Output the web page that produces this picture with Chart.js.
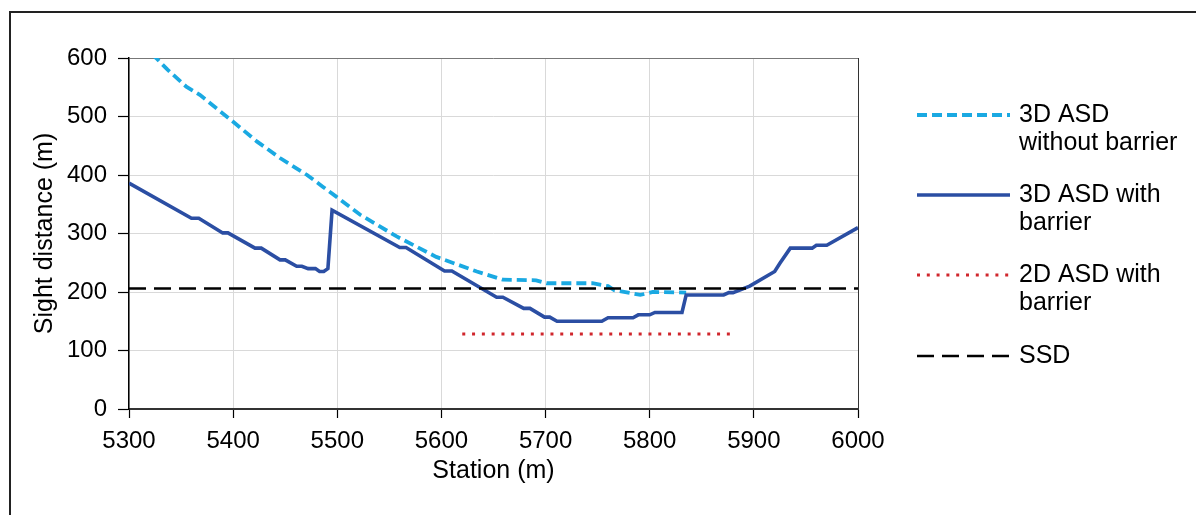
<!DOCTYPE html>
<html>
<head>
<meta charset="utf-8">
<title>Sight distance along the station</title>
<script src="https://cdn.jsdelivr.net/npm/chart.js@4.4.1/dist/chart.umd.min.js"></script>
<style>
  body { margin: 0; background: #fff; }
  #wrap { width: 1196px; height: 515px; }
</style>
</head>
<body>
<div id="wrap"><canvas id="chart" width="1196" height="515"></canvas></div>
<script>
"use strict";

// values: station (m) -> sight distance (m)
const noBarrierX = [5300, 5326, 5337, 5355, 5368, 5400, 5423, 5445, 5471, 5486, 5499, 5522, 5557, 5595, 5634, 5659, 5691, 5701, 5745, 5760, 5766, 5791, 5803, 5835];
const noBarrierY = [640, 600, 580, 551, 537, 491, 457, 429, 400, 380, 363, 332, 295, 260, 235, 221, 220, 215, 215, 210, 203, 195, 200, 199];

const withBarrierX = [5300, 5360, 5367, 5390, 5395, 5421, 5427, 5445, 5450, 5461, 5466, 5472, 5479, 5483, 5487, 5491, 5495, 5560, 5566, 5603, 5610, 5653, 5659, 5679, 5685, 5699, 5704, 5711, 5754, 5760, 5784, 5789, 5800, 5805, 5831, 5835, 5871, 5876, 5880, 5896, 5920, 5925, 5935, 5956, 5960, 5970, 6000];
const withBarrierY = [386, 326, 326, 301, 301, 275, 275, 255, 255, 244, 244, 240, 240, 235, 235, 240, 340, 276, 276, 236, 236, 191, 191, 172, 172, 157, 157, 150, 150, 156, 156, 161, 161, 165, 165, 195, 195, 199, 199, 210, 235, 249, 275, 275, 280, 280, 310];

const twoDX = [5620, 5882];
const twoDY = [128, 128];

const ssdX = [5300, 6000];
const ssdY = [206, 206];

const xTicks = [5300, 5400, 5500, 5600, 5700, 5800, 5900, 6000];
const yTicks = [0, 100, 200, 300, 400, 500, 600];

const legendLabels = [["3D ASD", "without barrier"], ["3D ASD with", "barrier"], ["2D ASD with", "barrier"], ["SSD"]];

const FONT = "'Liberation Sans', Arial, sans-serif";
const TICK_FS = 24;
const FS = 25;

function toPoints(xs, ys) {
  return xs.map((x, i) => ({ x: x, y: ys[i] }));
}

const styles = [
  { color: "#1aa9e2", width: 3.8, dash: [10, 5] },
  { color: "#2b4ea3", width: 3.6, dash: [] },
  { color: "#d0262d", width: 3, dash: [3, 6.8] },
  { color: "#000000", width: 2.5, dash: [17, 8] }
];

const data = {
  datasets: [
    { data: toPoints(noBarrierX, noBarrierY), order: 3 },
    { data: toPoints(withBarrierX, withBarrierY), order: 2 },
    { data: toPoints(twoDX, twoDY), order: 1 },
    { data: toPoints(ssdX, ssdY), order: 0 }
  ].map((d, i) => Object.assign(d, {
    label: legendLabels[i].join(" "),
    borderColor: styles[i].color,
    backgroundColor: styles[i].color,
    borderWidth: styles[i].width,
    borderDash: styles[i].dash,
    pointRadius: 0,
    tension: 0,
    fill: false
  }))
};

// legend on the right + outer frame
const extras = {
  id: "extras",
  afterDraw(chart) {
    const ctx = chart.ctx;
    ctx.save();
    ctx.strokeStyle = "#222";
    ctx.lineWidth = 2;
    ctx.setLineDash([]);
    ctx.beginPath();
    ctx.moveTo(1196, 12);
    ctx.lineTo(10, 12);
    ctx.lineTo(10, 515);
    ctx.stroke();

    const rows = [115, 195, 275, 356];
    ctx.font = FS + "px " + FONT;
    ctx.textBaseline = "middle";
    ctx.fillStyle = "#000";
    for (let i = 0; i < rows.length; i++) {
      ctx.strokeStyle = styles[i].color;
      ctx.lineWidth = styles[i].width;
      ctx.setLineDash(styles[i].dash);
      ctx.beginPath();
      ctx.moveTo(917, rows[i]);
      ctx.lineTo(1010, rows[i]);
      ctx.stroke();
      for (let j = 0; j < legendLabels[i].length; j++) {
        ctx.fillText(legendLabels[i][j], 1019, rows[i] + j * 28);
      }
    }
    ctx.restore();
  }
};

const config = {
  type: "line",
  data: data,
  plugins: [extras],
  options: {
    responsive: false,
    animation: false,
    layout: { padding: { left: 20, top: 58, right: 338, bottom: 20 } },
    plugins: { legend: { display: false }, tooltip: { enabled: false } },
    scales: {
      x: {
        type: "linear",
        min: 5300,
        max: 6000,
        afterBuildTicks: s => { s.ticks = xTicks.map(v => ({ value: v })); },
        afterFit: s => { s.height = 86; },
        grid: {
          color: c => (c.tick && c.tick.value === 6000 ? "#333" : "#d9d9d9"),
          lineWidth: 1,
          tickLength: 9,
          tickColor: "#000",
          tickWidth: 1.2
        },
        border: { color: "#333", width: 2 },
        ticks: { color: "#000", font: { family: FONT, size: TICK_FS }, padding: 9, maxRotation: 0, callback: v => String(v) },
        title: { display: true, text: "Station (m)", color: "#000", font: { family: FONT, size: FS }, padding: { top: 0, bottom: 9 } }
      },
      y: {
        min: 0,
        max: 600,
        afterBuildTicks: s => { s.ticks = yTicks.map(v => ({ value: v })); },
        afterFit: s => { s.width = 109; },
        grid: {
          color: c => (c.tick && c.tick.value === 600 ? "#777" : "#d9d9d9"),
          lineWidth: 1,
          tickLength: 11,
          tickColor: "#000",
          tickWidth: 1.2
        },
        border: { color: "#000", width: 1.5 },
        ticks: { color: "#000", font: { family: FONT, size: TICK_FS }, padding: 11, callback: v => String(v) },
        title: { display: true, text: "Sight distance (m)", color: "#000", font: { family: FONT, size: FS }, padding: { top: 10, bottom: 0 } }
      }
    }
  }
};

const myChart = new Chart(document.getElementById("chart"), config);
</script>
</body>
</html>
